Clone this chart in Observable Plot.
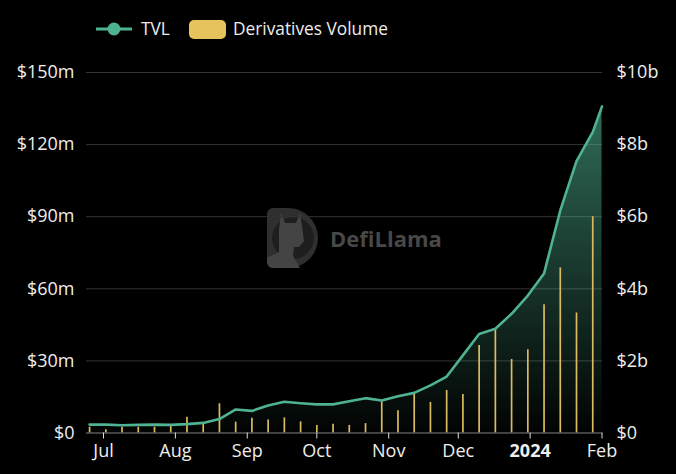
<!DOCTYPE html>
<html><head><meta charset="utf-8">
<script src="https://cdn.jsdelivr.net/npm/d3@7"></script>
<script src="https://cdn.jsdelivr.net/npm/@observablehq/plot@0.6"></script>
<style>
html,body{margin:0;padding:0;background:#000;}
#wrap{position:relative;width:676px;height:474px;overflow:hidden;font-family:"Open Sans",sans-serif;color:#eee;}
#legend{position:relative;height:58px;font-size:17.3px;}
#legend .lbl{position:absolute;top:29px;transform:translateY(-50%);line-height:1;white-space:nowrap;}
#legend svg{position:absolute;left:0;top:0;}
#chart svg{display:block;}
</style></head><body>
<div id="wrap"><div id="legend"></div><div id="chart"></div></div>
<script>
// ---- data ----
const weekDates = ["2023-06-25","2023-07-02","2023-07-09","2023-07-16","2023-07-23","2023-07-30",
  "2023-08-06","2023-08-13","2023-08-20","2023-08-27","2023-09-03","2023-09-10","2023-09-17","2023-09-24",
  "2023-10-01","2023-10-08","2023-10-15","2023-10-22","2023-10-29","2023-11-05","2023-11-12","2023-11-19",
  "2023-11-26","2023-12-03","2023-12-10","2023-12-17","2023-12-24","2023-12-31","2024-01-07","2024-01-14",
  "2024-01-21","2024-01-28"];
// Derivatives volume, $b per week
const volumeB = [0.16,0.09,0.16,0.16,0.16,0.18,0.44,0.25,0.81,0.30,0.41,0.36,0.42,0.31,0.21,0.24,
  0.21,0.26,0.89,0.62,1.09,0.85,1.18,1.07,2.43,2.86,2.04,2.31,3.56,4.58,3.33,6.00];
// TVL, $m
const tvlDates = weekDates.concat(["2024-02-01"]);
const tvlM = [3.5,3.5,3.2,3.4,3.5,3.4,3.7,4.2,5.8,9.8,9.2,11.4,13.0,12.4,11.9,11.9,13.2,14.5,13.5,
  15.3,16.7,19.8,23.5,32.3,41.2,43.4,49.6,57.2,66.4,92.6,113.1,125.2,135.9];
// axes
const leftTicks = [0,30,60,90,120,150];
const leftLabels = ["$0","$30m","$60m","$90m","$120m","$150m"];
const rightTickValuesB = [0,2,4,6,8,10];
const rightLabels = ["$0","$2b","$4b","$6b","$8b","$10b"];
const monthTickDates = ["2023-07-01","2023-08-01","2023-09-01","2023-10-01","2023-11-01","2023-12-01","2024-01-01","2024-02-01"];
const monthLabels = ["Jul","Aug","Sep","Oct","Nov","Dec","2024","Feb"];
const seriesNames = ["TVL","Derivatives Volume"];
const tvlColor = "#4fb393", volColor = "#dcbb5e", volLegendColor = "#e6c35c";

// ---- build ----
const bPerM = 10 / 150; // right axis: $10b <-> $150m
const parse = s => new Date(s + "T00:00:00Z");
const tvlData = tvlDates.map((d, i) => ({date: parse(d), value: tvlM[i]}));
const volData = weekDates.map((d, i) => ({date: parse(d), value: volumeB[i]}));
const monthTicks = monthTickDates.map(parse);
const rightTicks = rightTickValuesB.map(v => v / bPerM);

const font = "'Open Sans', sans-serif";
const chart = Plot.plot({
  width: 676, height: 416,
  marginTop: 14, marginBottom: 41.5, marginLeft: 86, marginRight: 74,
  style: {background: "#000", color: "#eee", fontFamily: font, fontSize: "18px", overflow: "visible"},
  x: {type: "utc", domain: [new Date("2023-06-23T16:00:00Z"), new Date("2024-02-01T05:00:00Z")], label: null},
  y: {domain: [0, 150], label: null},
  marks: [
    Plot.gridY(leftTicks, {stroke: "#333", strokeOpacity: 1}),
    Plot.areaY(tvlData, {x: "date", y: "value", fill: "url(#tvlGrad)"}),
    Plot.ruleX(volData, {x: "date", y1: 0, y2: d => d.value / bPerM, stroke: volColor, strokeWidth: 1.7}),
    Plot.ruleY([0], {stroke: "#6a6a6a"}),
    Plot.lineY(tvlData, {x: "date", y: "value", stroke: tvlColor, strokeWidth: 2.6}),
    Plot.axisY(leftTicks, {anchor: "left", tickSize: 0, tickPadding: 12, label: null, fontSize: 18,
      tickFormat: d => leftLabels[leftTicks.indexOf(d)]}),
    Plot.axisY(rightTicks, {anchor: "right", tickSize: 0, tickPadding: 14, label: null, fontSize: 18,
      tickFormat: d => rightLabels[rightTicks.indexOf(d)]}),
    Plot.axisX(monthTicks, {anchor: "bottom", tickSize: 6, tickPadding: 5, label: null, fontSize: 18, stroke: "#ddd",
      tickFormat: d => monthLabels[monthTicks.findIndex(t => +t === +d)]})
  ]
});

// gradient + watermark
const svg = d3.select(chart);
const defs = svg.insert("defs", ":first-child");
const g = defs.append("linearGradient").attr("id", "tvlGrad").attr("x1", 0).attr("y1", 0).attr("x2", 0).attr("y2", 1);
g.append("stop").attr("offset", "0%").attr("stop-color", tvlColor).attr("stop-opacity", 0.6);
g.append("stop").attr("offset", "100%").attr("stop-color", tvlColor).attr("stop-opacity", 0.02);

const wm = svg.insert("g", "defs + *").attr("transform", "translate(0,-58)").attr("opacity", 0.9);
wm.append("path").attr("d", "M267,214 a6,6 0 0 1 6,-6 h15 a30,30 0 0 1 0,60 h-15 a6,6 0 0 1 -6,-6 z").attr("fill", "#353535");
wm.append("circle").attr("cx", 293).attr("cy", 238).attr("r", 21).attr("fill", "#222");
wm.append("path").attr("d", "M281,213 L285,223 L296,223 L300,213 L302,226 L304,241 L299,247 L294,247 L293,256 L300,268 L273,268 a6,6 0 0 1 -6,-6 L267,258 L279,252 L279,230 Z").attr("fill", "#4c4c4c");
wm.append("text").attr("x", 330).attr("y", 247).attr("text-anchor", "start")
  .attr("font-family", "'Open Sans', sans-serif").attr("font-weight", 700)
  .attr("font-size", 22).attr("fill", "#505050").text("DefiLlama");

svg.selectAll("text").filter(function() { return this.textContent === "2024"; }).attr("font-weight", "bold");
document.getElementById("chart").appendChild(chart);

// legend
const legend = document.getElementById("legend");
legend.innerHTML = `<svg width="676" height="58">
  <line x1="96" x2="132" y1="29" y2="29" stroke="${tvlColor}" stroke-width="3"/>
  <circle cx="114" cy="29" r="6.5" fill="${tvlColor}"/>
  <rect x="189" y="20" width="37" height="19" rx="5" fill="${volLegendColor}"/>
</svg>
<span class="lbl" style="left:141px">${seriesNames[0]}</span>
<span class="lbl" style="left:233px">${seriesNames[1]}</span>`;
</script>
</body></html>
